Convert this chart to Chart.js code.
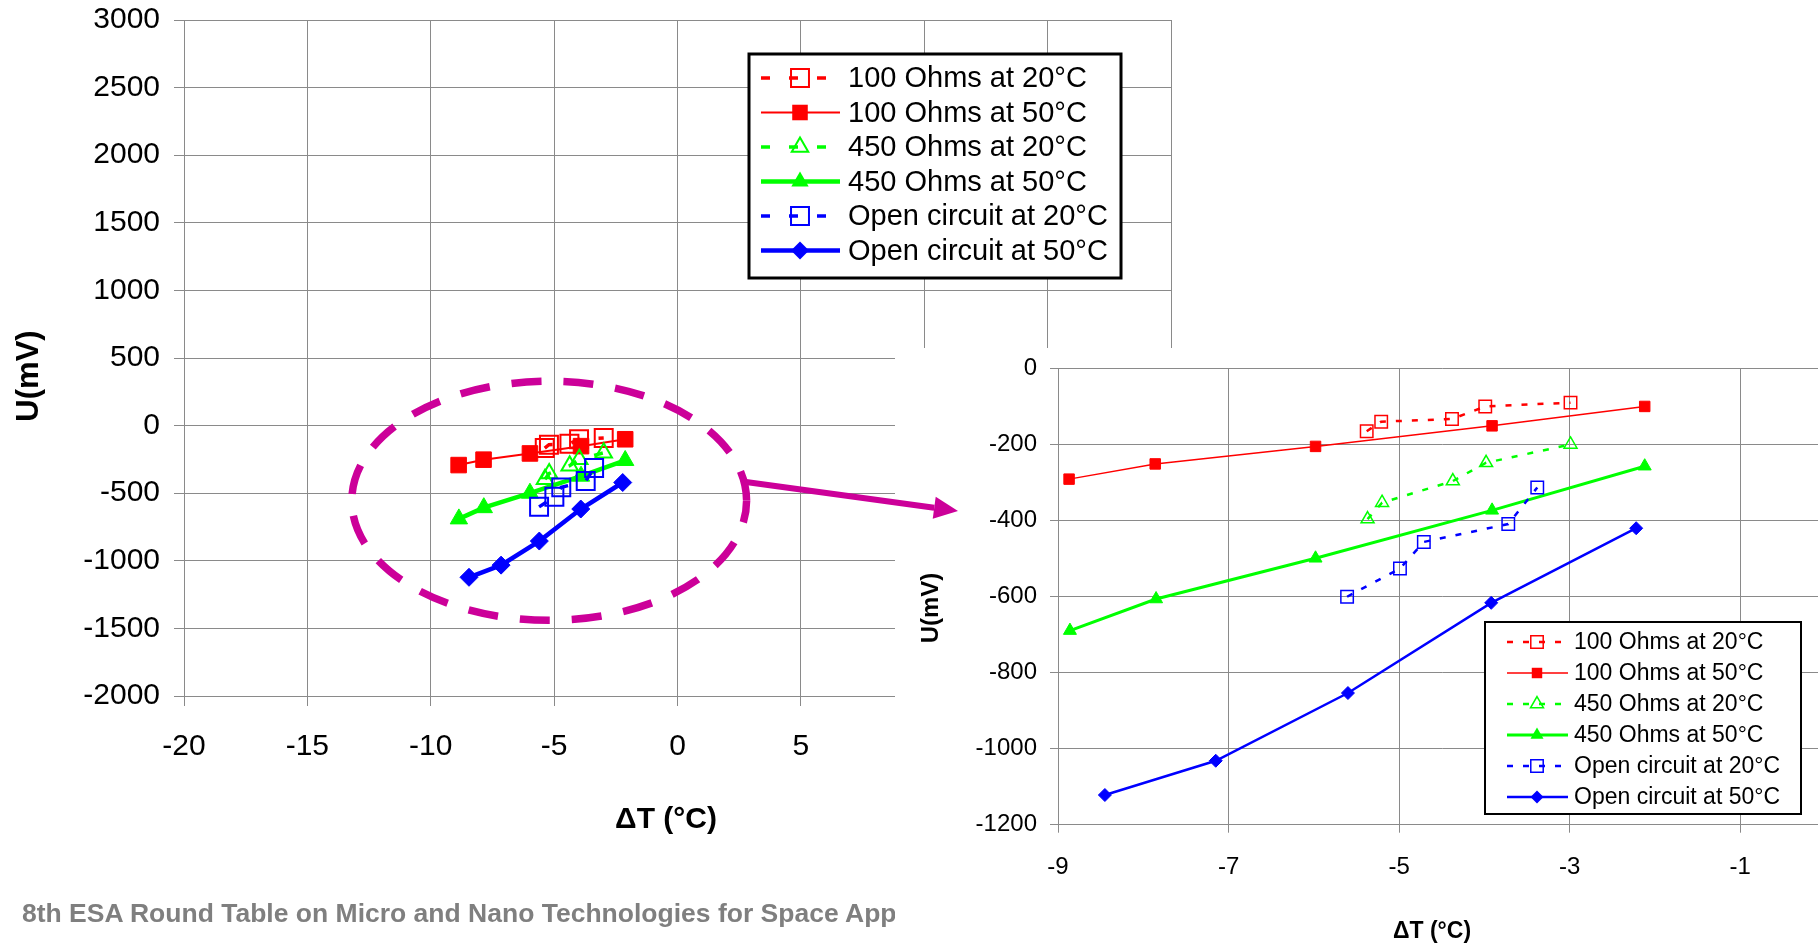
<!DOCTYPE html>
<html>
<head>
<meta charset="utf-8">
<title>U vs dT</title>
<script src="https://cdn.jsdelivr.net/npm/chart.js@4.4.1/dist/chart.umd.min.js"></script>
<style>
    html, body { margin: 0; padding: 0; width: 1818px; height: 944px; overflow: hidden; background: #fff; }
    body { position: relative; }
    #leftChart { position: absolute; left: 0; top: 0; z-index: 0; }
    #footer { position: absolute; left: 22px; top: 898px; z-index: 1; white-space: nowrap;
              font: bold 26.5px "Liberation Sans", Arial, sans-serif; color: #7f7f7f; }
    #rightWrap { position: absolute; left: 895px; top: 348px; width: 923px; height: 596px;
                 overflow: hidden; background: #fff; z-index: 2; }
    #rightChart { position: absolute; left: 0; top: 0; }
    #overlay { position: absolute; left: 0; top: 0; z-index: 3; pointer-events: none; }
</style>
</head>
<body>
<canvas id="leftChart" width="1200" height="944"></canvas>
<div id="footer">8th ESA Round Table on Micro and Nano Technologies for Space Applications</div>
<div id="rightWrap"><canvas id="rightChart" width="960" height="596"></canvas></div>
<canvas id="overlay" width="1818" height="944"></canvas>

<script>
// series names
const seriesLabels = ['100 Ohms at 20°C', '100 Ohms at 50°C', '450 Ohms at 20°C',
                      '450 Ohms at 50°C', 'Open circuit at 20°C', 'Open circuit at 50°C'];

// delta T (°C) and U (mV) for each series
const dT100at20 = [-5.38, -5.21, -4.38, -3.99, -2.99];
const u100at20  = [-166, -141, -134, -101, -91];
const dT100at50 = [-8.87, -7.86, -5.98, -3.91, -2.12];
const u100at50  = [-292, -252, -206, -152, -101];
const dT450at20 = [-5.37, -5.20, -4.37, -3.98, -2.99];
const u450at20  = [-397, -354, -297, -249, -201];
const dT450at50 = [-8.86, -7.85, -5.98, -3.91, -2.12];
const u450at50  = [-690, -607, -500, -374, -258];
const dTopenAt20 = [-5.61, -4.99, -4.71, -3.72, -3.38];
const uOpenAt20  = [-601, -527, -457, -410, -314];
const dTopenAt50 = [-8.45, -7.15, -5.60, -3.92, -2.22];
const uOpenAt50  = [-1122, -1032, -854, -617, -421];

// tick labels
const leftXTicks = [-20, -15, -10, -5, 0, 5, 10, 15, 20];
const leftYTicks = [-2000, -1500, -1000, -500, 0, 500, 1000, 1500, 2000, 2500, 3000];
const rightXTicks = [-9, -7, -5, -3, -1];
const rightYTicks = [-1200, -1000, -800, -600, -400, -200, 0];

const xValues = [dT100at20, dT100at50, dT450at20, dT450at50, dTopenAt20, dTopenAt50];
const yValues = [u100at20, u100at50, u450at20, u450at50, uOpenAt20, uOpenAt50];

const looks = [
    { color: '#ff0000', style: 'rect', open: true, dashed: true },
    { color: '#ff0000', style: 'rect', open: false, dashed: false },
    { color: '#00ff00', style: 'triangle', open: true, dashed: true },
    { color: '#00ff00', style: 'triangle', open: false, dashed: false },
    { color: '#0000ff', style: 'rect', open: true, dashed: true },
    { color: '#0000ff', style: 'rectRot', open: false, dashed: false }
];

const leftSize = { r: [12.7, 11, 9.5, 10, 12.7, 9], line: [3.5, 2, 3.5, 4.5, 3.5, 4.5], dash: [9, 19], pointBorder: 2 };
const rightSize = { r: [8.8, 7.4, 7.5, 7.5, 8.8, 6.5], line: [2.5, 1.5, 2.5, 3, 2.5, 2.5], dash: [6, 10], pointBorder: 1.5 };

const FONT = '"Liberation Sans", Arial, sans-serif';
const GRID = '#8a8a8a';
const MAGENTA = '#cc0099';

function makeDatasets(size) {
    return seriesLabels.map((label, i) => ({
        label: label,
        data: xValues[i].map((x, k) => ({ x: x, y: yValues[i][k] })),
        showLine: true,
        tension: 0,
        borderColor: looks[i].color,
        borderWidth: size.line[i],
        borderDash: looks[i].dashed ? size.dash : [],
        pointStyle: looks[i].style,
        pointRadius: size.r[i],
        pointHoverRadius: size.r[i],
        pointBorderWidth: looks[i].open ? size.pointBorder : 1,
        pointBorderColor: looks[i].color,
        pointBackgroundColor: looks[i].open ? 'rgba(0,0,0,0)' : looks[i].color,
        order: seriesLabels.length - i
    }));
}

function drawMarker(ctx, style, x, y, r) {
    ctx.beginPath();
    if (style === 'rect') {
        const s = r * Math.SQRT1_2;
        ctx.rect(x - s, y - s, 2 * s, 2 * s);
    } else if (style === 'triangle') {
        ctx.moveTo(x, y - r);
        ctx.lineTo(x + r * 0.866, y + r * 0.5);
        ctx.lineTo(x - r * 0.866, y + r * 0.5);
    } else {
        ctx.moveTo(x, y - r);
        ctx.lineTo(x + r, y);
        ctx.lineTo(x, y + r);
        ctx.lineTo(x - r, y);
    }
    ctx.closePath();
}

// legend box drawn inside the plot, like the Excel one
function boxLegend(box) {
    return {
        id: 'boxLegend',
        afterDraw(chart) {
            const ctx = chart.ctx;
            ctx.save();
            ctx.fillStyle = '#fff';
            ctx.fillRect(box.x, box.y, box.w, box.h);
            ctx.lineWidth = box.border;
            ctx.strokeStyle = '#000';
            ctx.strokeRect(box.x, box.y, box.w, box.h);
            chart.data.datasets.forEach((ds, i) => {
                const cy = box.y + box.row0 + i * box.gap;
                ctx.beginPath();
                ctx.setLineDash(ds.borderDash);
                ctx.lineWidth = ds.borderWidth;
                ctx.strokeStyle = ds.borderColor;
                ctx.moveTo(box.x + box.line0, cy);
                ctx.lineTo(box.x + box.line1, cy);
                ctx.stroke();
                ctx.setLineDash([]);
                drawMarker(ctx, ds.pointStyle, box.x + box.mark, cy, ds.pointRadius);
                if (looks[i].open) {
                    ctx.lineWidth = ds.pointBorderWidth;
                    ctx.stroke();
                } else {
                    ctx.fillStyle = ds.borderColor;
                    ctx.fill();
                }
                ctx.fillStyle = '#000';
                ctx.font = box.font;
                ctx.textAlign = 'left';
                ctx.textBaseline = 'middle';
                ctx.fillText(ds.label, box.x + box.text, cy + 1);
            });
            ctx.restore();
        }
    };
}

function axisTitles(list) {
    return {
        id: 'axisTitles',
        afterDraw(chart) {
            const ctx = chart.ctx;
            ctx.save();
            ctx.fillStyle = '#000';
            ctx.textAlign = 'center';
            ctx.textBaseline = 'middle';
            list.forEach(t => {
                ctx.save();
                ctx.translate(t.x, t.y);
                ctx.rotate(t.rot);
                ctx.font = t.font;
                ctx.fillText(t.text, 0, 0);
                ctx.restore();
            });
            ctx.restore();
        }
    };
}

// dashed ellipse round the data, placed in data units
const ringCenter = { x: -5.2, y: -556 };
const ringRadius = { x: 8.0, y: 884 };
const ringPlugin = {
    id: 'ring',
    afterDraw(chart) {
        const sx = chart.scales.x, sy = chart.scales.y;
        const cx = sx.getPixelForValue(ringCenter.x);
        const cy = sy.getPixelForValue(ringCenter.y);
        const rx = sx.getPixelForValue(ringCenter.x + ringRadius.x) - cx;
        const ry = cy - sy.getPixelForValue(ringCenter.y + ringRadius.y);
        const ctx = chart.ctx;
        ctx.save();
        ctx.strokeStyle = MAGENTA;
        ctx.lineWidth = 7.5;
        ctx.setLineDash([30, 22]);
        ctx.lineDashOffset = 8;
        ctx.beginPath();
        ctx.ellipse(cx, cy, rx, ry, 0, 0, Math.PI * 2);
        ctx.stroke();
        ctx.restore();
    }
};

function scaleOpts(ticksArr, min, max, font, pad, tickLen, fixSize, horizontal) {
    return {
        type: 'linear',
        min: min,
        max: max,
        afterBuildTicks: s => { s.ticks = ticksArr.map(v => ({ value: v })); },
        afterFit: s => {
            if (horizontal) s.height = fixSize; else s.width = fixSize;
            // no extra room for labels hanging over the plot ends
            s.paddingTop = 0; s.paddingBottom = 0; s.paddingLeft = 0; s.paddingRight = 0;
        },
        grid: { color: GRID, lineWidth: 1, tickLength: tickLen, drawTicks: true },
        border: { color: GRID, width: 1 },
        ticks: { color: '#000', font: font, padding: pad, maxRotation: 0, autoSkip: false,
                 callback: v => String(v) }
    };
}

Chart.defaults.font.family = FONT;
Chart.defaults.animation = false;

new Chart(document.getElementById('leftChart').getContext('2d'), {
    type: 'scatter',
    data: { datasets: makeDatasets(leftSize) },
    options: {
        responsive: false,
        devicePixelRatio: 1,
        layout: { padding: { left: 0, top: 20, right: 29, bottom: 0 } },
        plugins: { legend: { display: false }, tooltip: { enabled: false } },
        scales: {
            x: scaleOpts(leftXTicks, -20, 20, { size: 30 }, 23, 10, 248, true),
            y: scaleOpts(leftYTicks, -2000, 3000, { size: 30 }, 14, 10, 184, false)
        }
    },
    plugins: [ringPlugin,
        boxLegend({ x: 749, y: 54, w: 372, h: 224, border: 3, row0: 24, gap: 34.5,
                    line0: 12, line1: 91, mark: 51, text: 99, font: '29px ' + FONT }),
        axisTitles([
            { text: 'ΔT (°C)', x: 666, y: 820, rot: 0, font: 'bold 30px ' + FONT },
            { text: 'U(mV)', x: 29, y: 376, rot: -Math.PI / 2, font: 'bold 31px ' + FONT }
        ])]
});

new Chart(document.getElementById('rightChart').getContext('2d'), {
    type: 'scatter',
    data: { datasets: makeDatasets(rightSize) },
    options: {
        responsive: false,
        devicePixelRatio: 1,
        layout: { padding: { left: 0, top: 20, right: 29.5, bottom: 0 } },
        plugins: { legend: { display: false }, tooltip: { enabled: false } },
        scales: {
            x: scaleOpts(rightXTicks, -9, 0, { size: 24 }, 20, 8, 119.3, true),
            y: scaleOpts(rightYTicks, -1200, 0, { size: 24 }, 13, 8, 163, false)
        }
    },
    plugins: [
        boxLegend({ x: 590, y: 274, w: 316, h: 192, border: 2, row0: 20, gap: 31,
                    line0: 22, line1: 83, mark: 52, text: 89, font: '23px ' + FONT }),
        axisTitles([
            { text: 'ΔT (°C)', x: 537, y: 584, rot: 0, font: 'bold 23px ' + FONT },
            { text: 'U(mV)', x: 36, y: 260, rot: -Math.PI / 2, font: 'bold 24px ' + FONT }
        ])]
});

// arrow from the ring to the zoomed chart
(function drawArrow() {
    const ctx = document.getElementById('overlay').getContext('2d');
    const x0 = 746, y0 = 482, x1 = 958, y1 = 511;
    const ang = Math.atan2(y1 - y0, x1 - x0);
    const headLen = 24, headHalf = 11;
    const bx = x1 - Math.cos(ang) * headLen, by = y1 - Math.sin(ang) * headLen;
    ctx.strokeStyle = MAGENTA;
    ctx.fillStyle = MAGENTA;
    ctx.lineWidth = 6;
    ctx.beginPath();
    ctx.moveTo(x0, y0);
    ctx.lineTo(bx, by);
    ctx.stroke();
    ctx.beginPath();
    ctx.moveTo(x1, y1);
    ctx.lineTo(bx - Math.sin(ang) * headHalf, by + Math.cos(ang) * headHalf);
    ctx.lineTo(bx + Math.sin(ang) * headHalf, by - Math.cos(ang) * headHalf);
    ctx.closePath();
    ctx.fill();
})();
</script>
</body>
</html>
